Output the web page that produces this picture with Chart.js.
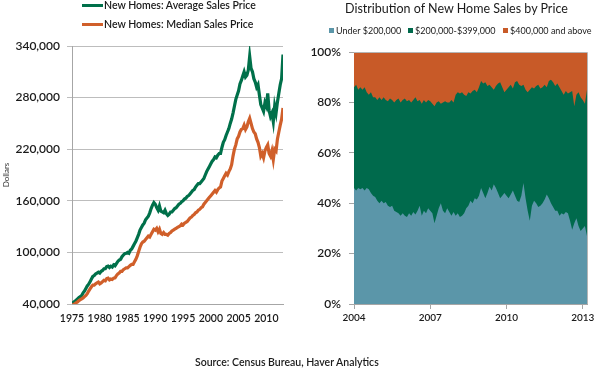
<!DOCTYPE html>
<html><head><meta charset="utf-8">
<script src="https://cdn.jsdelivr.net/npm/chart.js@4.4.0/dist/chart.umd.min.js"></script>
<style>
html,body{margin:0;padding:0;background:#fff;}
body{width:600px;height:372px;position:relative;overflow:hidden;font-family:Lato,sans-serif;color:#1a1a1a;}
canvas{position:absolute;top:0;}
#cl{left:0}
#cr{left:300px}
.t{position:absolute;white-space:nowrap;line-height:1;}
.sw{display:inline-block;vertical-align:middle;}
</style></head>
<body>
<canvas id="cl" width="300" height="372"></canvas>
<canvas id="cr" width="300" height="372"></canvas>

<div class="t" style="left:82px;top:0px;font-size:10.5px;font-weight:600;"><span class="sw" style="width:21px;height:3px;background:#00704A;margin-right:1px;margin-top:-2px"></span>New Homes: Average Sales Price</div>
<div class="t" style="left:82px;top:19px;font-size:10.5px;font-weight:600;"><span class="sw" style="width:21px;height:3px;background:#D05F2A;margin-right:1px;margin-top:-2px"></span>New Homes: Median Sales Price</div>

<div class="t" style="left:345px;top:3px;font-size:12.5px;">Distribution of New Home Sales by Price</div>
<div class="t" style="left:329px;top:26px;font-size:9px;"><span class="sw" style="width:5px;height:5px;background:#5B96A9;margin-right:2px;margin-top:-2px"></span>Under $200,000</div>
<div class="t" style="left:408px;top:26px;font-size:9px;"><span class="sw" style="width:5px;height:5px;background:#006A4C;margin-right:2px;margin-top:-2px"></span>$200,000-$399,000</div>
<div class="t" style="left:503px;top:26px;font-size:9px;"><span class="sw" style="width:5px;height:5px;background:#C85A28;margin-right:2px;margin-top:-2px"></span>$400,000 and above</div>

<div class="t" style="left:195px;top:357px;font-size:10.5px;font-weight:600;">Source: Census Bureau, Haver Analytics</div>

<script>
// ---------- Left chart: quarterly prices, thousands of dollars, 1975Q1 .. 2013Q1
const priceStartYear = 1975;
const avgPriceK = [
 41,42,43,44.5, 46,47.5,48.5,50, 53,55,58,61, 63,66,69,72, 73,75,76,77,
 76,78,79,81, 81,83.5,84,82.5, 84,83,85.5,84.5, 87,89.5,91,92, 95,97,98.5,99,
 100,99,102.5,104, 107,110,113,117, 121,126,129,132, 134,138,140,142, 146,151,155,158,
 156,152,149,154, 148,147,146,149, 145,143,144.5,147, 147,149,151,152, 154,156,157,159,
 160,162,163,165, 166,168,170,172, 173,176,178,180, 180,182,184,186, 190,194,197,200,
 203,206,208,211, 210,213,215,215, 222,228,231,236, 240,244,250,255, 262,270,278,283,
 288,296,300,305, 310,304,306,312, 328,314,310,302, 298,292,295,283, 272,268,264,274,
 270,285,265,258, 262,252,270,262, 275,285,295,302, 330
];
const medPriceK = [
 38.5,39.5,40,41.5, 42.5,44,45,46, 47,48.5,50,52, 55,57.5,60,62, 62,63.5,64.5,65.5,
 63.5,64.5,66,67.5, 67,69.5,70,68, 69,68.5,70,70.5, 73,75,76,78, 78,80,81,82,
 82,83.5,85,86, 86,89,92,96, 101,106,110,112, 113,115,117,119, 118,121,124,127,
 126,128,124,127, 122,121,123,121, 121,120,122,123, 125,126,127,128, 129,130,131,133,
 132,134,135,136, 138,140,141,143, 144,146,147,149, 150,152,153,156, 158,160,162,164,
 166,168,170,172, 170,173,175,176, 183,186,189,192, 190,194,197,202, 212,220,225,232,
 235,240,243,244, 248,243,246,252, 256,250,244,240, 238,232,228,222, 212,215,210,218,
 222,225,215,212, 218,208,220,218, 232,240,248,255, 268
];
const priceYTicks = [40000,100000,160000,220000,280000,340000];
const priceXTicks = [1975,1980,1985,1990,1995,2000,2005,2010];

// ---------- Right chart: monthly shares (%), Jan 2004 .. Mar 2013
const shareStartYear = 2004;
const shareUnder200 = [
 46,45,46,45.5,46,45,46,45.5,44,43,42.5,41,
 40,41,40,40.5,39,38.5,39,37,36.5,36,35,36,
 35,34.5,36,35,36.5,35.5,37,39,35,37,36,38,
 37,36,32,35,38,40,37,36,38,36.5,35,36.5,
 35,36,34.5,35,36,38,39,41,40,42,41.5,43,
 46,44,42,44,46.5,45,47.5,46,44,42,43,44,
 43,42,43.5,45,43,41,40.5,43,48,42,37,33,
 39,41,40,38.5,39,40,41.5,43.5,42,40,38.5,37,
 37,35,36,35.5,36.5,36,33,29.5,32,34,31,29,
 30,31,27
];
const share200to399 = [
 40,42,39,40.5,39,41,38,37.5,40,39,39.5,40,
 42,40,42,40.5,41.5,43,42,43,44.5,45.5,45,45,
 46.5,46,45,45,44.5,46.5,43.5,42,44.5,44,44,43,
 43.5,43.5,46.5,45,42.5,39.5,43,44.5,42,43.5,46,43.5,
 48,48,49,49,47,44.5,45,42.5,44.5,43,42.5,43,
 42.5,43.5,46,42.5,40.5,41,37.5,40.5,43.5,46,43,40,
 42,44,43.5,40.5,45,47.5,46.5,43.5,39,43,47,52,
 47,44.5,46.5,48.5,46.5,46,45.5,42.5,46.5,49,49.5,49.5,
 50.5,51,48.5,47.5,48,47.5,51,55,46.5,49,53,53,
 51,48.5,58
];
const share400plus = [
 14,13,15,14,15,14,16,17,16,18,18,19,
 18,19,18,19,19.5,18.5,19,20,19,18.5,20,19,
 18.5,19.5,19,20,19,18,19.5,19,20.5,19,20,19,
 19.5,20.5,21.5,20,19.5,20.5,20,19.5,20,20,19,20,
 17,16,16.5,16,17,17.5,16,16.5,15.5,15,16,14,
 11.5,12.5,12,13.5,13,14,15,13.5,12.5,12,14,16,
 15,14,13,14.5,12,11.5,13,13.5,13,15,16,15,
 14,14.5,13.5,13,14.5,14,13,14,11.5,11,12,13.5,
 12.5,14,15.5,17,15.5,16.5,16,15.5,21.5,17,16,18,
 19,20.5,15
];
const shareYTicks = [0,20,40,60,80,100];
const shareXTicks = [2004,2007,2010,2013];

const FONT = 'Lato';
const TXT = '#1a1a1a';
const GRID = '#bdbdbd';
const AXIS = '#a6a6a6';
const YFONT = { family: FONT, size: 12, weight: '600' };
const XFONT_L = { family: FONT, size: 10.5, weight: '600' };
const XFONT_R = { family: FONT, size: 10, weight: '600' };

const avgPts = avgPriceK.map((v,i)=>({x: priceStartYear + i/4, y: v*1000}));
const medPts = medPriceK.map((v,i)=>({x: priceStartYear + i/4, y: v*1000}));
const lastPriceX = priceStartYear + (avgPriceK.length-1)/4;

new Chart(document.getElementById('cl'), {
  type: 'line',
  data: { datasets: [
    { label: 'New Homes: Median Sales Price', data: medPts, borderColor: '#D05F2A', borderWidth: 3.2, pointRadius: 0, tension: 0, fill: false },
    { label: 'New Homes: Average Sales Price', data: avgPts, borderColor: '#00704A', borderWidth: 3.2, pointRadius: 0, tension: 0, fill: false }
  ]},
  options: {
    responsive: false, animation: false, devicePixelRatio: 1,
    layout: { padding: { top: 46, right: 17, bottom: 38, left: 0 } },
    plugins: { legend: { display: false }, tooltip: { enabled: false } },
    scales: {
      x: {
        type: 'linear', min: priceStartYear, max: lastPriceX,
        afterBuildTicks: s => { s.ticks = priceXTicks.map(v => ({ value: v })); },
        afterFit: s => { s.height = 30; },
        grid: { display: false, drawTicks: false },
        border: { display: true, color: AXIS, width: 1 },
        ticks: { padding: 8, color: TXT, font: XFONT_L, maxRotation: 0, autoSkip: false, callback: v => String(v) }
      },
      y: {
        min: 40000, max: 340000,
        afterBuildTicks: s => { s.ticks = priceYTicks.map(v => ({ value: v })); },
        afterFit: s => { s.width = 72; },
        grid: { color: GRID, lineWidth: 1, tickLength: 5, drawTicks: true },
        border: { display: true, color: AXIS, width: 1 },
        ticks: { padding: 7, color: TXT, font: YFONT, autoSkip: false, callback: v => v.toLocaleString('en-US') },
        title: { display: true, text: 'Dollars', color: '#333', font: { family: FONT, size: 8 }, padding: { top: 2, bottom: 0 } }
      }
    }
  }
});

const underPts = shareUnder200.map((v,i)=>({x: shareStartYear + i/12, y: v}));
const midPts = share200to399.map((v,i)=>({x: shareStartYear + i/12, y: v}));
const topPts = share400plus.map((v,i)=>({x: shareStartYear + i/12, y: v}));
const lastShareX = shareStartYear + (shareUnder200.length-1)/12;

const plotBorder = {
  id: 'plotBorder',
  afterDatasetsDraw(chart) {
    const {ctx, chartArea: a} = chart;
    ctx.save();
    ctx.strokeStyle = '#b5b5b5'; ctx.lineWidth = 1;
    ctx.beginPath();
    ctx.moveTo(a.left, a.top + 0.5); ctx.lineTo(a.right + 0.5, a.top + 0.5); ctx.lineTo(a.right + 0.5, a.bottom);
    ctx.stroke();
    ctx.restore();
  }
};

new Chart(document.getElementById('cr'), {
  type: 'line',
  data: { datasets: [
    { label: 'Under $200,000', data: underPts, backgroundColor: '#5B96A9', borderWidth: 0, pointRadius: 0, fill: 'origin', tension: 0 },
    { label: '$200,000-$399,000', data: midPts, backgroundColor: '#006A4C', borderWidth: 0, pointRadius: 0, fill: 'origin', tension: 0 },
    { label: '$400,000 and above', data: topPts, backgroundColor: '#C85A28', borderWidth: 0, pointRadius: 0, fill: 'origin', tension: 0 }
  ]},
  options: {
    responsive: false, animation: false, devicePixelRatio: 1,
    layout: { padding: { top: 52, right: 13, bottom: 38, left: 0 } },
    plugins: { legend: { display: false }, tooltip: { enabled: false } },
    scales: {
      x: {
        type: 'linear', min: shareStartYear, max: lastShareX,
        afterBuildTicks: s => { s.ticks = shareXTicks.map(v => ({ value: v })); },
        afterFit: s => { s.height = 30; },
        grid: { display: true, drawOnChartArea: false, drawTicks: true, tickLength: 5, color: AXIS },
        border: { display: true, color: AXIS, width: 1 },
        ticks: { padding: 3, color: TXT, font: XFONT_R, maxRotation: 0, autoSkip: false, callback: v => String(v) }
      },
      y: {
        stacked: true, min: 0, max: 100,
        afterBuildTicks: s => { s.ticks = shareYTicks.map(v => ({ value: v })); },
        afterFit: s => { s.width = 54; },
        grid: { display: true, drawOnChartArea: false, drawTicks: true, tickLength: 5, color: AXIS },
        border: { display: true, color: AXIS, width: 1 },
        ticks: { padding: 8, color: TXT, font: YFONT, autoSkip: false, callback: v => v + '%' }
      }
    }
  },
  plugins: [plotBorder]
});
</script>
</body></html>
